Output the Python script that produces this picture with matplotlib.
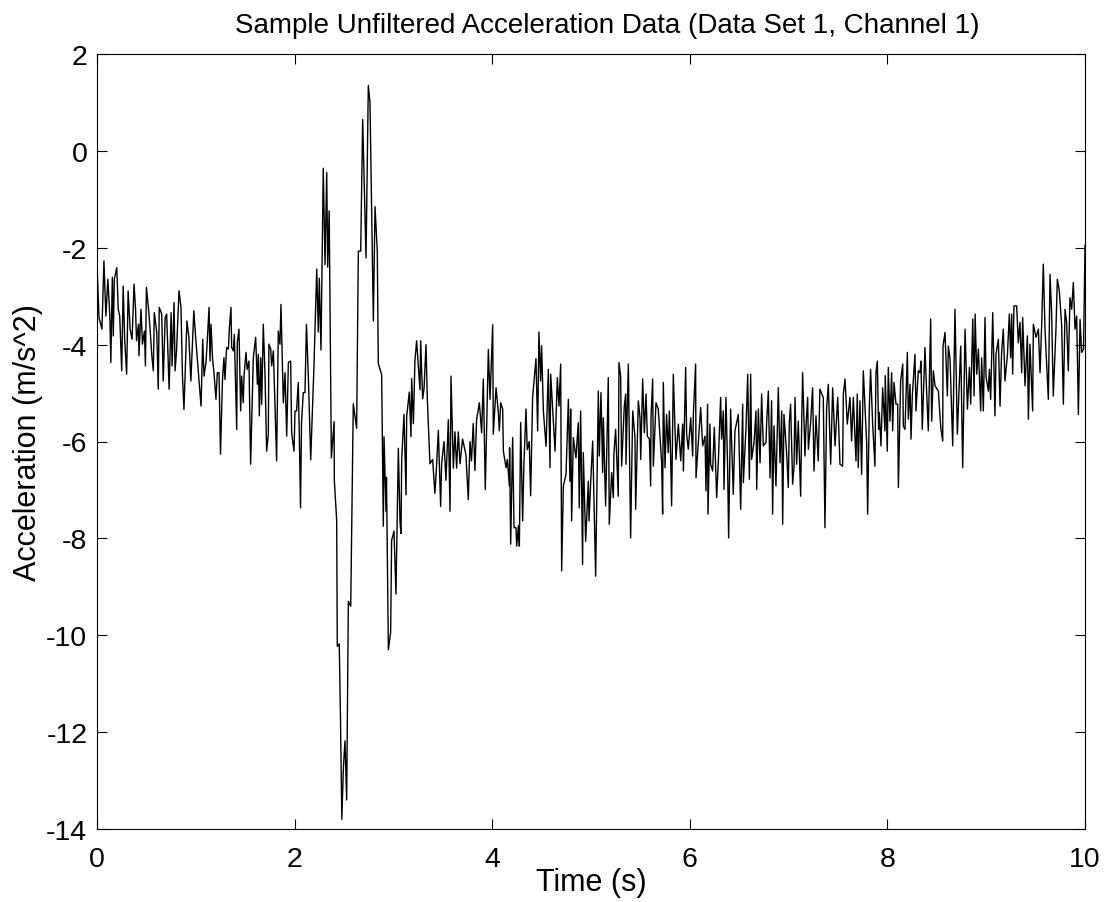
import matplotlib
matplotlib.use("Agg")
import matplotlib.pyplot as plt

plt.rcParams['font.family'] = ['Liberation Sans', 'DejaVu Sans']
plt.rcParams['axes.unicode_minus'] = False

title = "Sample Unfiltered Acceleration Data (Data Set 1, Channel 1)"
xlabel = "Time (s)"
ylabel = "Acceleration (m/s^2)"
xticks = [0, 2, 4, 6, 8, 10]
yticks = [-14, -12, -10, -8, -6, -4, -2, 0, 2]

# time (s) and acceleration (m/s^2)
time = [
    0.00, 0.02, 0.05, 0.07, 0.09, 0.11, 0.13, 0.14, 0.155, 0.165, 0.175, 0.20, 0.215, 0.23, 0.25,
    0.265, 0.28, 0.30, 0.315, 0.335, 0.355, 0.375, 0.39, 0.40, 0.42, 0.425, 0.445, 0.46, 0.48, 0.49,
    0.50, 0.52, 0.535, 0.555, 0.57, 0.58, 0.605, 0.62, 0.63, 0.655, 0.67, 0.69, 0.705, 0.73, 0.75,
    0.76, 0.78, 0.79, 0.805, 0.83, 0.85, 0.865, 0.88, 0.91, 0.93, 0.95, 0.965, 0.98, 1.00,
    1.053, 1.07, 1.083, 1.103, 1.117, 1.134, 1.144, 1.154, 1.17, 1.184, 1.204, 1.218, 1.235, 1.25,
    1.27, 1.285, 1.295, 1.312, 1.33, 1.34, 1.356, 1.363, 1.38, 1.39, 1.414, 1.42, 1.437, 1.454,
    1.464, 1.48, 1.488, 1.508, 1.52, 1.538, 1.555, 1.582, 1.606, 1.623, 1.633, 1.643, 1.657, 1.667,
    1.683, 1.70, 1.717, 1.734, 1.74, 1.758, 1.768, 1.785, 1.80, 1.818, 1.835, 1.852, 1.862, 1.886,
    1.903, 1.92, 1.937, 1.96, 1.97, 1.994, 2.004, 2.02, 2.037, 2.047, 2.06, 2.07, 2.088, 2.105,
    2.12, 2.14,
    2.163, 2.196, 2.224, 2.24, 2.25, 2.267, 2.29, 2.308, 2.325, 2.335, 2.35, 2.365, 2.372, 2.40,
    2.402, 2.426, 2.432, 2.452, 2.465, 2.478, 2.494, 2.51, 2.527, 2.544, 2.568, 2.594, 2.628,
    2.645, 2.669, 2.689, 2.723, 2.746, 2.763, 2.797, 2.814, 2.837, 2.847, 2.871, 2.881,
    2.898, 2.905, 2.925, 2.93, 2.949, 2.972, 2.982, 3.006, 3.026, 3.05, 3.067, 3.077, 3.084, 3.107,
    3.128, 3.134, 3.161, 3.178, 3.185, 3.202, 3.218, 3.235, 3.252, 3.269, 3.276, 3.296, 3.31, 3.33,
    3.343, 3.37, 3.397, 3.42, 3.438, 3.455, 3.478, 3.488, 3.512, 3.532, 3.556, 3.573, 3.583, 3.607,
    3.623, 3.64, 3.657, 3.674, 3.70, 3.734, 3.758, 3.775, 3.79, 3.808, 3.825, 3.842, 3.87,
    3.893, 3.91, 3.93, 3.961, 3.978, 4.005, 4.011, 4.039, 4.062, 4.072, 4.086, 4.106, 4.113, 4.14,
    4.153, 4.174, 4.176, 4.187, 4.207, 4.221, 4.241, 4.248, 4.265, 4.275, 4.288, 4.308, 4.321,
    4.342, 4.355, 4.375, 4.389, 4.409, 4.443, 4.46, 4.473, 4.49, 4.50, 4.518, 4.545, 4.568, 4.585,
    4.592, 4.612, 4.636, 4.659, 4.676, 4.693, 4.703, 4.72, 4.747, 4.771, 4.787, 4.794, 4.804,
    4.821, 4.848, 4.871, 4.881,
    4.895, 4.915, 4.922, 4.946, 4.973, 4.98, 4.996, 5.017, 5.047, 5.074, 5.084, 5.101, 5.118,
    5.125, 5.148, 5.175, 5.185, 5.209, 5.226, 5.232, 5.249, 5.276, 5.283, 5.30, 5.31, 5.337,
    5.351, 5.354, 5.378, 5.401, 5.422, 5.445, 5.452, 5.479, 5.496, 5.503, 5.523, 5.54, 5.557,
    5.57, 5.591, 5.604, 5.607, 5.624, 5.631, 5.658, 5.681, 5.715, 5.725, 5.732, 5.749, 5.765,
    5.782, 5.793, 5.806, 5.816, 5.833, 5.86, 5.884,
    5.908, 5.928, 5.935, 5.958, 5.968, 5.985, 6.009, 6.029, 6.036, 6.059, 6.063, 6.086, 6.11,
    6.13, 6.154, 6.164, 6.18, 6.184, 6.204, 6.211, 6.231, 6.248, 6.272, 6.289, 6.312, 6.322,
    6.339, 6.346, 6.366, 6.383, 6.393, 6.413, 6.44, 6.457, 6.491, 6.515, 6.535, 6.542, 6.569,
    6.586, 6.603, 6.616, 6.626, 6.65, 6.67, 6.677, 6.694, 6.711, 6.727, 6.744, 6.771, 6.778,
    6.795, 6.812, 6.828, 6.838, 6.852, 6.872, 6.896,
    6.913, 6.93, 6.94, 6.953, 6.98, 6.997, 7.007, 7.02, 7.041, 7.055, 7.065, 7.081, 7.098, 7.122,
    7.132, 7.142, 7.166, 7.176, 7.193, 7.20, 7.223, 7.243, 7.257, 7.277, 7.30, 7.317, 7.351,
    7.368, 7.385, 7.402, 7.426, 7.446, 7.47, 7.497, 7.52, 7.547, 7.554, 7.571, 7.594, 7.621,
    7.638, 7.655, 7.682, 7.695, 7.705, 7.722, 7.739, 7.756, 7.79, 7.80, 7.817, 7.83, 7.85, 7.874,
    7.884, 7.898, 7.911,
    7.918, 7.935, 7.952, 7.975, 7.978, 7.999, 8.009, 8.026, 8.043, 8.053, 8.067, 8.087, 8.104,
    8.111, 8.134, 8.155, 8.161, 8.178, 8.202, 8.212, 8.229, 8.239, 8.252, 8.279, 8.289, 8.313,
    8.33, 8.34, 8.353, 8.38, 8.397, 8.414, 8.438, 8.448, 8.465, 8.482, 8.516, 8.54, 8.56, 8.563,
    8.583, 8.607, 8.617, 8.634, 8.661, 8.684, 8.708, 8.742, 8.762, 8.786, 8.81, 8.83, 8.843,
    8.864, 8.877, 8.888, 8.904, 8.921,
    8.944, 8.954, 8.971, 8.988, 8.998, 9.022, 9.032, 9.045, 9.066, 9.089, 9.099, 9.123, 9.14,
    9.156, 9.173, 9.19, 9.214, 9.234, 9.247, 9.258, 9.268, 9.281, 9.308, 9.325, 9.342, 9.359,
    9.369, 9.393, 9.417, 9.427, 9.443, 9.47, 9.477, 9.504, 9.528, 9.545, 9.561, 9.578, 9.595,
    9.629, 9.646, 9.662, 9.679, 9.706, 9.72, 9.74, 9.764, 9.781, 9.798, 9.814, 9.831, 9.848,
    9.865, 9.882, 9.899, 9.916, 9.933, 9.95, 9.966, 9.985, 10.0,
]

accel = [
    -2.34, -3.44, -3.68, -2.27, -3.41, -2.65, -3.41, -4.37, -2.61, -3.82, -2.65, -2.41, -3.27, -3.41, -4.54,
    -2.79, -3.89, -4.61, -2.89, -3.68, -3.89, -2.75, -3.27, -3.92, -3.58, -4.23, -3.27, -3.99, -3.72, -4.44,
    -2.82, -3.23, -3.61, -4.23, -4.54, -3.34, -3.75, -4.92, -3.23, -3.37, -4.75, -3.44, -3.37, -4.92, -3.34,
    -4.44, -3.13, -4.54, -4.13, -2.89, -3.23, -4.65, -5.34, -3.51, -3.85, -4.75, -4.03, -3.30, -3.89,
    -5.27, -3.89, -4.65, -4.37, -3.89, -3.23, -4.34, -3.58, -4.30, -4.58, -5.13, -4.58, -4.58, -6.26,
    -4.72, -4.27, -4.72, -4.06, -4.09, -3.65, -3.23, -4.06, -4.13, -3.79, -5.75, -3.96, -3.68, -5.37,
    -4.65, -5.20, -4.65, -4.16, -4.51, -4.34, -6.47, -4.27, -3.85, -4.82, -4.20, -5.47, -4.27, -5.23,
    -3.58, -4.58, -6.20, -5.85, -3.99, -4.09, -4.44, -4.13, -5.16, -6.40, -3.72, -3.99, -3.17, -5.20,
    -4.58, -5.89, -4.37, -4.34, -5.82, -6.20, -5.37, -5.37, -4.78, -5.78, -7.37, -5.61, -4.99, -4.99,
    -3.58, -4.72,
    -6.38, -4.44, -2.44, -3.74, -2.63, -4.11, -0.36, -2.35, -0.45, -2.40, -1.24, -4.85, -6.34, -5.59,
    -6.80, -7.63, -10.23, -10.18, -11.8, -13.8, -12.73, -12.18, -13.4, -9.3, -9.4, -5.22, -5.73,
    -2.07, -2.07, 0.65, -2.21, 1.35, 1.0, -3.51, -1.15, -2.07, -4.39, -4.55, -4.62,
    -7.75, -5.90, -7.44, -6.74, -10.3, -9.94, -8.04, -7.85, -9.15, -6.14, -7.67, -7.90, -6.37, -5.44,
    -7.10, -5.49, -4.98, -5.90, -4.70, -5.63, -4.33, -3.92, -4.43, -4.93, -3.92, -5.12, -4.91, -4.00,
    -5.10, -6.46, -6.37, -7.07, -6.46, -5.77, -7.34, -6.46, -6.00, -6.80, -5.55, -7.44, -4.65, -6.55,
    -5.80, -6.55, -5.80, -6.46, -5.95, -6.27, -7.20, -6.00, -6.40, -5.63, -6.60, -5.55, -5.20,
    -5.82, -4.71, -6.99, -4.10, -5.13, -3.59, -5.85, -4.89, -5.40, -5.78, -5.20, -5.33, -6.20, -6.54,
    -6.37, -6.92, -6.13, -8.12, -5.92, -7.78, -7.78, -8.16, -7.74, -8.16, -5.61, -7.64, -6.47,
    -5.33, -6.17, -6.00, -7.12, -5.09, -4.29, -5.78, -3.74, -4.75, -4.02, -5.37, -6.10, -4.51, -6.54,
    -4.61, -5.33, -6.20, -4.68, -5.27, -4.40, -8.67, -6.92, -6.68, -5.13, -6.82, -5.33, -7.64,
    -5.92, -6.34, -5.61, -7.37,
    -5.37, -8.54, -6.23, -8.06, -6.82, -7.64, -6.88, -5.99, -8.78, -4.96, -6.30, -4.99, -6.64,
    -5.51, -7.33, -4.68, -7.71, -6.64, -7.16, -6.26, -5.75, -7.13, -4.37, -4.65, -6.51, -5.27,
    -5.02, -6.47, -4.40, -7.99, -5.37, -5.92, -7.40, -5.16, -5.51, -6.37, -4.71, -5.82, -5.02,
    -5.89, -5.95, -6.92, -5.54, -4.71, -6.51, -5.20, -5.33, -6.44, -7.50, -4.78, -6.54, -5.44,
    -6.23, -5.37, -6.30, -7.33, -4.61, -6.37, -5.64,
    -6.40, -5.64, -6.61, -4.47, -5.85, -6.16, -5.51, -6.30, -5.44, -4.40, -6.75, -6.02, -5.30,
    -6.09, -5.89, -7.02, -5.23, -7.50, -5.64, -6.47, -6.61, -5.71, -7.16, -6.40, -5.09, -5.95,
    -5.37, -6.99, -5.09, -6.54, -7.99, -5.33, -7.09, -5.78, -5.44, -7.40, -5.23, -6.85, -5.71,
    -4.61, -6.78, -4.61, -6.37, -6.02, -5.37, -6.99, -5.33, -6.44, -5.02, -6.09, -6.02, -5.61,
    -4.96, -6.75, -5.16, -7.50, -5.68, -6.92, -4.89,
    -6.44, -5.37, -7.71, -5.44, -6.23, -6.95, -5.61, -5.23, -6.88, -6.51, -5.09, -6.47, -5.58, -7.13,
    -5.68, -4.58, -6.30, -5.68, -5.09, -6.16, -5.61, -4.89, -6.61, -5.47, -6.40, -4.92, -5.09,
    -7.78, -5.30, -4.82, -6.47, -4.89, -6.09, -5.09, -6.47, -6.51, -5.02, -4.71, -5.64, -5.09,
    -5.99, -5.09, -6.40, -5.02, -6.54, -5.16, -6.68, -4.54, -6.02, -7.50, -5.30, -4.51, -5.61, -6.51,
    -4.58, -4.34, -5.75,
    -5.40, -6.09, -4.89, -5.78, -4.64, -6.20, -4.47, -5.58, -4.58, -5.78, -4.78, -5.23, -5.23,
    -6.95, -4.75, -4.40, -5.68, -5.75, -4.16, -5.54, -4.82, -5.95, -5.06, -4.20, -5.37, -4.54,
    -4.58, -4.34, -5.75, -4.06, -4.96, -5.78, -3.47, -5.58, -4.54, -4.85, -4.96, -5.71, -5.99, -4.03,
    -3.75, -5.06, -4.03, -4.30, -6.09, -3.27, -5.85, -4.03, -6.54, -3.68, -5.33, -4.47, -5.23,
    -3.47, -5.06, -3.37, -4.61, -4.09,
    -5.37, -4.27, -5.37, -3.44, -4.65, -4.96, -4.51, -5.13, -3.34, -5.47, -4.20, -3.89, -5.27,
    -4.16, -3.68, -4.75, -4.23, -3.37, -4.27, -3.37, -4.61, -3.20, -3.20, -3.96, -3.54, -4.58,
    -3.44, -4.85, -3.82, -5.54, -3.99, -5.37, -3.58, -3.85, -3.68, -4.58, -3.61, -2.34, -3.68,
    -5.13, -2.55, -3.34, -5.06, -3.68, -2.65, -2.89, -3.61, -5.23, -3.27, -3.54, -4.54, -3.03,
    -3.27, -2.72, -3.68, -3.41, -5.44, -3.48, -4.16, -4.10, -1.95,
]

fig = plt.figure(figsize=(11.04, 9.03), dpi=100)
ax = fig.add_axes([97 / 1104, 73 / 903, 988 / 1104, 775 / 903])
ax.plot(time, accel, color='black', linewidth=1.0)

ax.set_xlim(0, 10)
ax.set_ylim(-14, 2)
ax.set_xticks(xticks)
ax.set_yticks(yticks)
ax.tick_params(direction='in', length=7.5, width=0.8, top=True, right=True,
               labelsize=20.5)
ax.tick_params(axis='x', pad=12)
ax.tick_params(axis='y', pad=7)
for s in ax.spines.values():
    s.set_linewidth(0.8)

ax.set_title(title, fontsize=20, pad=16, x=0.516)
ax.set_xlabel(xlabel, fontsize=22, labelpad=-3)
ax.set_ylabel(ylabel, fontsize=22, labelpad=2)

fig.savefig("out.png", dpi=100, facecolor='white')
